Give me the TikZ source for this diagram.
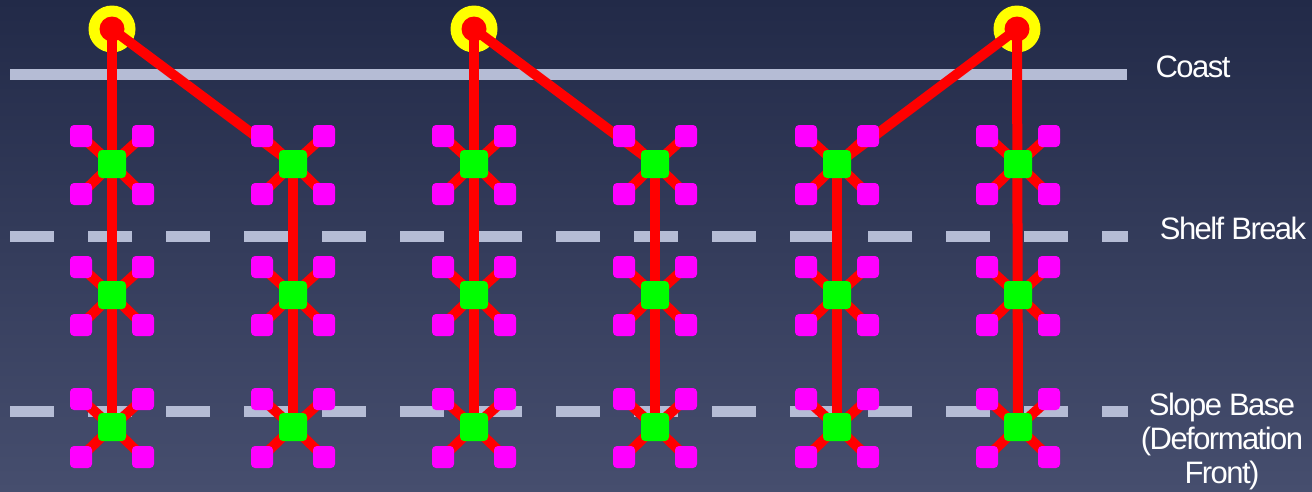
\documentclass[tikz,border=0pt]{standalone}
\usepackage{fontspec}
\setmainfont{Liberation Sans}[LetterSpace=-5]
\pgfdeclarelayer{back}
\pgfdeclarelayer{wires}
\pgfsetlayers{back,wires,main}
\definecolor{skytop}{HTML}{222A48}
\definecolor{skybot}{HTML}{464E6E}
\definecolor{guide}{HTML}{B5BCD5}
\definecolor{hubgreen}{RGB}{0,255,0}
\definecolor{padpink}{RGB}{255,0,255}
\definecolor{ringyellow}{RGB}{255,255,0}
\definecolor{cablered}{RGB}{255,0,0}
\tikzset{
  hub/.style={rectangle, fill=hubgreen, minimum size=28pt, inner sep=0pt, rounded corners=4pt},
  pad/.style={rectangle, fill=padpink, minimum size=22pt, inner sep=0pt, rounded corners=4pt},
  station/.style={circle, fill=ringyellow, minimum size=47pt, inner sep=0pt},
  stationcore/.style={circle, fill=cablered, minimum size=25pt, inner sep=0pt},
  cable/.style={draw=cablered, line width=10pt},
  coastline/.style={draw=guide, line width=11pt},
  contour/.style={draw=guide, line width=11pt, dash pattern=on 44pt off 34pt},
  tag/.style={text=white, inner sep=0pt, font=\fontsize{31}{34}\selectfont}
}
\begin{document}
\begin{tikzpicture}[x=1pt,y=-1pt]
  \useasboundingbox (0,0) rectangle (1312,491);
  \begin{pgfonlayer}{back}
    \shade[top color=skytop, bottom color=skybot] (0,0) rectangle (1312,491);
  \end{pgfonlayer}

  % junction boxes with their four sensor pads
  \foreach \c/\x in {1/112,2/293,3/474,4/655,5/837,6/1018}{
    \foreach \r/\y in {1/164,2/295,3/427}{
      \node[pad] (m\c\r-a) at (\x-31,\y-28) {};
      \node[pad] (m\c\r-b) at (\x+31,\y-28) {};
      \node[pad] (m\c\r-c) at (\x-31,\y+30) {};
      \node[pad] (m\c\r-d) at (\x+31,\y+30) {};
      \node[hub] (g\c\r) at (\x,\y) {};
    }
  }

  \begin{pgfonlayer}{wires}
    % depth contours
    \coordinate (coastW) at (10,74);
    \coordinate (coastE) at (1127,74);
    \coordinate (shelfW) at (10,236);
    \coordinate (shelfE) at (1128,236);
    \coordinate (slopeW) at (10,411);
    \coordinate (slopeE) at (1128,411);
    \draw[coastline] (coastW) -- (coastE);
    \draw[contour] (shelfW) -- (shelfE);
    \draw[contour] (slopeW) -- (slopeE);

    % shore stations
    \node[station] (s1) at (112,29) {};
    \node[station] (s3) at (474,29) {};
    \node[station] (s6) at (1017,29) {};

    % short links from each junction to its pads
    \foreach \c in {1,...,6}{
      \foreach \r in {1,2,3}{
        \foreach \k in {a,b,c,d}{
          \draw[cable] (g\c\r.center) -- (m\c\r-\k.center);
        }
      }
    }

    % trunk cables
    \draw[cable] (s1.center) -- (g13.center);
    \draw[cable] (s1.center) -- (g21.center);
    \draw[cable] (g21.center) -- (g23.center);
    \draw[cable] (s3.center) -- (g33.center);
    \draw[cable] (s3.center) -- (g41.center);
    \draw[cable] (g41.center) -- (g43.center);
    \draw[cable] (s6.center) -- (g51.center);
    \draw[cable] (g51.center) -- (g53.center);
    \draw[cable] (s6.center) -- (g63.center);
  \end{pgfonlayer}

  \node[stationcore] (s1c) at (s1) {};
  \node[stationcore] (s3c) at (s3) {};
  \node[stationcore] (s6c) at (s6) {};

  % labels
  \node[tag, anchor=base] (coast) at (1193,77) {Coast};
  \node[tag, anchor=base] (shelf) at (1233,239) {Shelf Break};
  \node[tag, anchor=north, align=center] (slope) at (1222,393) {Slope Base\\(Deformation\\Front)};
\end{tikzpicture}
\end{document}
